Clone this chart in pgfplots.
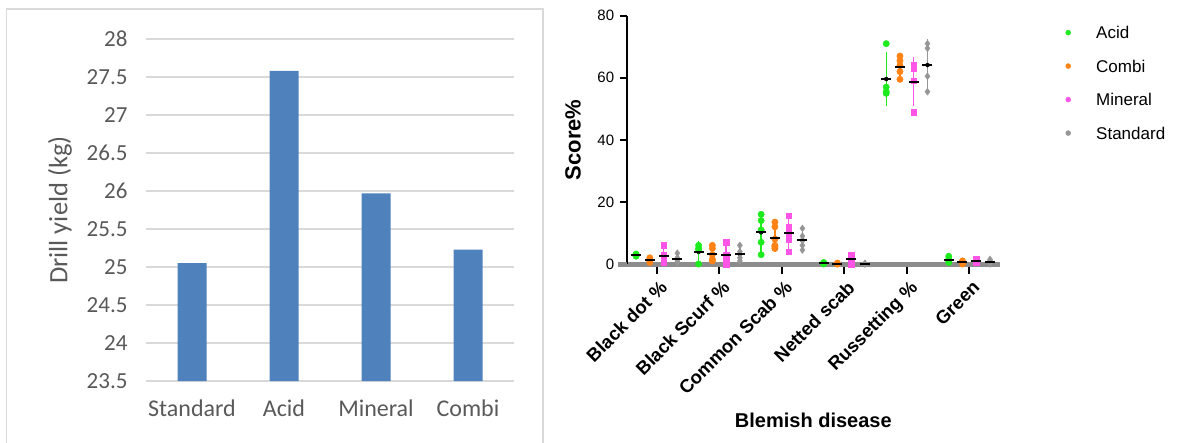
\documentclass[border=0pt]{standalone}
\usepackage{fontspec}
\setmainfont{Liberation Sans}
\newfontfamily\carlito{Carlito}
\usepackage{pgfplots}
\usepackage{pgfplotstable}
\pgfplotsset{compat=1.18}
\definecolor{barblue}{RGB}{79,129,189}
\definecolor{gridc}{RGB}{217,217,217}
\definecolor{txtgray}{RGB}{89,89,89}
\definecolor{acid}{RGB}{30,235,30}
\definecolor{combi}{RGB}{255,130,20}
\definecolor{mineral}{RGB}{255,85,230}
\definecolor{standard}{RGB}{150,150,150}
\definecolor{xaxisc}{RGB}{140,140,140}
\pgfplotsset{legimg/.style={legend image code/.code={\draw[##1] plot coordinates {(0pt,0pt)}; \path[draw=none,fill=none] (-2.5pt,-2.5pt) rectangle (28pt,2.5pt);}}}

% points: x = category + offset, y = score
\pgfplotstableread{
x y
-0.33 3
-0.33 2.5
-0.33 3.2
0.67 6
0.67 5
0.67 4.5
0.67 0
1.67 16
1.67 14
1.67 11
1.67 7
1.67 3
2.67 0.5
2.67 0
2.67 0.3
3.67 71
3.67 57
3.67 55.5
3.67 55
4.67 2.5
4.67 1.5
4.67 1
4.67 0.5
}\acidpts
\pgfplotstableread{
x m s
-0.33 2.9 0.35
0.67 3.9 2.7
1.67 10.2 5.3
2.67 0.3 0.3
3.67 59.6 7.6
4.67 1.4 0.85
}\acidm
\pgfplotstableread{
x y
-0.11 1.5
-0.11 0.5
-0.11 1
-0.11 2
0.89 6
0.89 5
0.89 3
0.89 1.5
0.89 1
1.89 13.5
1.89 12
1.89 8
1.89 6
1.89 5
1.89 5.5
2.89 0
2.89 0
2.89 0.3
3.89 67
3.89 65.5
3.89 64
3.89 62
3.89 59.5
4.89 0.5
4.89 1
4.89 0
}\combipts
\pgfplotstableread{
x m s
-0.11 1.25 0.65
0.89 3.3 2.17
1.89 8.33 3.5
2.89 0.1 0.17
3.89 63.6 2.9
4.89 0.5 0.5
}\combim
\pgfplotstableread{
x y
0.11 6
0.11 3
0.11 1
0.11 0.5
0.11 2
1.11 7
1.11 3
1.11 0
1.11 2
2.11 15.5
2.11 12
2.11 10
2.11 8
2.11 4
3.11 3
3.11 1.5
3.11 0
4.11 64
4.11 63
4.11 59
4.11 49
5.11 1.5
5.11 0.5
5.11 1
}\minpts
\pgfplotstableread{
x m s
0.11 2.5 2.2
1.11 3 2.94
2.11 9.9 4.3
3.11 1.5 1.5
4.11 58.75 6.85
5.11 1 0.5
}\minm
\pgfplotstableread{
x y
0.33 3.5
0.33 2
0.33 1
0.33 0.5
1.33 6
1.33 4
1.33 2
1.33 1
2.33 11.5
2.33 9
2.33 7.5
2.33 6
2.33 4.5
3.33 0
3.33 0
3.33 0.2
4.33 71
4.33 69.5
4.33 60.5
4.33 55.5
5.33 1.5
5.33 0.5
5.33 1
5.33 0
}\stdpts
\pgfplotstableread{
x m s
0.33 1.75 1.3
1.33 3.25 2.2
2.33 7.7 2.7
3.33 0.07 0.1
4.33 64.1 7.3
5.33 0.75 0.65
}\stdm

\begin{document}
\begin{tikzpicture}
\useasboundingbox (0pt,0pt) rectangle (1186pt,442pt);
\draw[gridc, line width=1.3pt] (6.5pt,-5pt) -- (6.5pt,433pt) -- (543pt,433pt) -- (543pt,-5pt);

% ---------------- left panel ----------------
\begin{axis}[
 at={(146pt,61pt)}, anchor=south west, scale only axis,
 width=368pt, height=342pt,
 xmin=-0.5, xmax=3.5, ymin=23.5, ymax=28,
 ybar, bar width=29pt,
 axis line style={draw=none},
 major tick length=0pt,
 ymajorgrids, grid style={draw=gridc, line width=1.3pt},
 xtick={0,1,2,3}, xticklabels={Standard,Acid,Mineral,Combi},
 ytick={23.5,24,24.5,25,25.5,26,26.5,27,27.5,28},
 /pgf/number format/assume math mode=true,
 yticklabel style={font=\carlito\fontsize{23}{27}\selectfont, text=txtgray, xshift=-15pt},
 xticklabel style={font=\carlito\fontsize{24}{28}\selectfont, text=txtgray, yshift=-15pt},
 ylabel={Drill yield (kg)},
 ylabel style={font=\carlito\fontsize{26.5}{30}\selectfont, text=txtgray, at={(axis description cs:-0.234,0.5)}, anchor=center},
]
\addplot[fill=barblue, draw=none] coordinates {(0,25.05) (1,27.58) (2,25.97) (3,25.23)};
\end{axis}

% ---------------- right panel ----------------
\begin{axis}[
 at={(626.7pt,178pt)}, anchor=south west, scale only axis,
 width=373.3pt, height=248.3pt,
 xmin=-0.48, xmax=5.49, ymin=0, ymax=80,
 clip=false,
 axis x line*=bottom, axis y line*=left,
 x axis line style={draw=xaxisc, line width=5pt},
 y axis line style={draw=black, line width=1.8pt},
 xtick={0,1,2,3,4,5},
 xticklabels={Black dot \%, Black Scurf \%, Common Scab \%, Netted scab, Russetting \%, Green},
 ytick={0,20,40,60,80},
 tick align=outside,
 major tick length=7pt,
 x tick style={draw=black, line width=2pt, yshift=-3pt},
 y tick style={draw=black, line width=1.6pt},
 /pgf/number format/assume math mode=true,
 xticklabel style={font=\bfseries\fontsize{18.5}{22}\selectfont, rotate=45, anchor=north east, xshift=-1pt, yshift=-4pt},
 yticklabel style={font=\fontsize{15}{18}\selectfont, xshift=-2pt},
 xlabel={Blemish disease}, ylabel={Score\%},
 xlabel style={font=\bfseries\fontsize{20}{24}\selectfont, at={(axis description cs:0.5,-0.628)}, anchor=center},
 ylabel style={font=\bfseries\fontsize{22}{26}\selectfont, at={(axis description cs:-0.144,0.5)}, anchor=center},
 legend style={draw=none, fill=none, inner sep=0pt, row sep=21pt,
   at={(axis description cs:1.1755,0.958)}, anchor=north west,
   nodes={inner sep=0pt, text height=12.5pt, text depth=0pt},
   font=\fontsize{17}{20}\selectfont},
 legend cell align=left,
]
\draw[xaxisc, line width=5pt] (axis cs:-0.625,0) -- (axis cs:-0.48,0);

\addlegendimage{legimg, color=acid, mark=*, mark size=2.5pt}
\addlegendentry{Acid}
\addlegendimage{legimg, color=combi, mark=*, mark size=2.5pt}
\addlegendentry{Combi}
\addlegendimage{legimg, color=mineral, mark=*, mark size=2.5pt}
\addlegendentry{Mineral}
\addlegendimage{legimg, color=standard, mark=*, mark size=2.5pt}
\addlegendentry{Standard}

% Acid
\addplot[forget plot, only marks, mark=none, error bars/.cd, y dir=both, y explicit,
  error bar style={color=acid, line width=1.3pt}, error mark options={color=acid, line width=1.3pt, mark size=3pt}]
  table[x=x, y=m, y error=s]{\acidm};
\addplot[forget plot, only marks, mark=*, mark size=3.2pt, color=acid] table[x=x, y=y]{\acidpts};
\addplot[forget plot, only marks, mark=-, mark size=5pt, mark options={line width=2pt, black}] table[x=x, y=m]{\acidm};
% Combi
\addplot[forget plot, only marks, mark=none, error bars/.cd, y dir=both, y explicit,
  error bar style={color=combi, line width=1.3pt}, error mark options={color=combi, line width=1.3pt, mark size=3pt}]
  table[x=x, y=m, y error=s]{\combim};
\addplot[forget plot, only marks, mark=*, mark size=3.2pt, color=combi] table[x=x, y=y]{\combipts};
\addplot[forget plot, only marks, mark=-, mark size=5pt, mark options={line width=2pt, black}] table[x=x, y=m]{\combim};
% Mineral
\addplot[forget plot, only marks, mark=none, error bars/.cd, y dir=both, y explicit,
  error bar style={color=mineral, line width=1.3pt}, error mark options={color=mineral, line width=1.3pt, mark size=3pt}]
  table[x=x, y=m, y error=s]{\minm};
\addplot[forget plot, only marks, mark=square*, mark size=2.8pt, color=mineral] table[x=x, y=y]{\minpts};
\addplot[forget plot, only marks, mark=-, mark size=5pt, mark options={line width=2pt, black}] table[x=x, y=m]{\minm};
% Standard
\addplot[forget plot, only marks, mark=none, error bars/.cd, y dir=both, y explicit,
  error bar style={color=standard, line width=1.3pt}, error mark options={color=standard, line width=1.3pt, mark size=3pt}]
  table[x=x, y=m, y error=s]{\stdm};
\addplot[forget plot, only marks, mark=diamond*, mark size=3.4pt, color=standard] table[x=x, y=y]{\stdpts};
\addplot[forget plot, only marks, mark=-, mark size=5pt, mark options={line width=2pt, black}] table[x=x, y=m]{\stdm};
\end{axis}
\end{tikzpicture}
\end{document}
